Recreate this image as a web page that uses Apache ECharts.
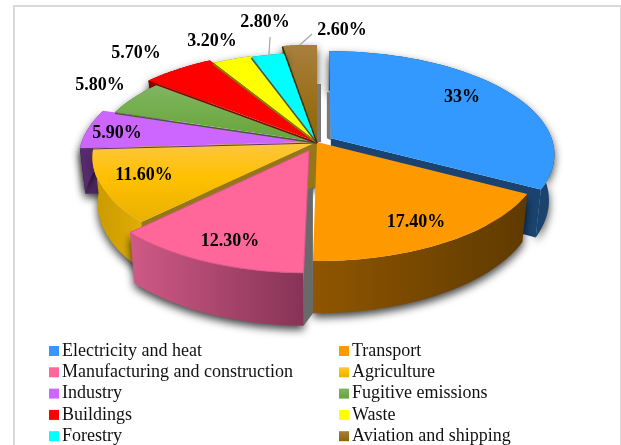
<!DOCTYPE html>
<html><head><meta charset="utf-8">
<style>html,body{margin:0;padding:0;background:#fff;overflow:hidden}#c{width:621px;height:445px}</style>
<script src="https://cdn.jsdelivr.net/npm/echarts@6/dist/echarts.min.js"></script>
</head><body><div id="c"></div>
<script>
// ---- data ----
const categories = ['Electricity and heat','Transport','Manufacturing and construction','Agriculture','Industry','Fugitive emissions','Buildings','Waste','Forestry','Aviation and shipping'];
const values = [33,17.4,12.3,11.6,5.9,5.8,5.7,3.2,2.8,2.6];
const valueLabels = ['33%','17.40%','12.30%','11.60%','5.90%','5.80%','5.70%','3.20%','2.80%','2.60%'];
const legendLeft = [0,2,4,6,8].map(i=>categories[i]);
const legendRight = [1,3,5,7,9].map(i=>categories[i]);

// ---- style and layout of the tilted pie ----
const PIE = {cx:317, cy:142, rx:222, ry:101.2, k:0.15, depth:45, sx:0.977, sy:1.06};
const grad = (a,b,h)=>new echarts.graphic.LinearGradient(0,0,h?1:0,h?0:1,[{offset:0,color:a},{offset:1,color:b}]);
const agriTop = new echarts.graphic.LinearGradient(0,0,0,1,[{offset:0,color:'#fcc640'},{offset:.45,color:'#ffc000'},{offset:1,color:'#e9b000'}]);
const sliceStyle = [
 {e:.073,r:1,   top:'#3399ff', wall:'#1a4370', cut:'#1a4370', lab:[.70,-.476]},
 {e:0,   r:1,   top:'#ff9900', wall:grad('#8f5600','#5f3a00',true), cut:'#666666', lab:[.399,.707]},
 {e:.09, r:1,   top:'#ff6699', wall:grad('#cf5a86','#873356',true), cut:'#666666', lab:[-.342,.853], stroke:'#d9588a'},
 {e:0,   r:1,   top:agriTop, wall:grad('#c89a00','#e2ae06',true), cut:'#937719', lab:[-.743,.311]},
 {e:0,   r:1.06,top:'#cc66ff', wall:'#572b6e', cut:'#572b6e', lab:[-.913,-.09], edge:'#5a3570', edgeW:1.1},
 {e:0,   r:1,   top:grad('#80b562','#66a437'), wall:'#3f6622', cut:'#3f6622', lab:[-1.068,-.615], edge:'#3f5f25', edgeW:1.3},
 {e:0,   r:1.07,top:'#ff0000', wall:'#8c0000', cut:'#8c0000', lab:[-.939,-1.013], edge:'#8c0000', edgeW:1.6},
 {e:0,   r:1.03,top:'#ffff00', wall:'#8a8a00', cut:'#8a8a00', lab:[-.556,-1.174], edge:'#80800a', edgeW:1.6},
 {e:0,   r:1.02,top:'#00ffff', wall:'#008a8a', cut:'#008a8a', lab:[-.285,-1.44], edge:'#3a5a55', edgeW:1.6, leader:[[-.25,-1.229],[-.249,-.989]]},
 {e:0,   r:1.12,top:grad('#a87f3e','#8f6500'), wall:'#6a4a00', cut:'#6a4a00', lab:[.135,-1.327], edge:'#3f2d08', edgeW:1.6, leader:[[-.027,-1.27],[-.092,-1.116]]}
];
const total = values.reduce((a,b)=>a+b,0);
const startTheta = values.map((v,i)=>values.slice(0,i).reduce((a,b)=>a+b,0)/total*Math.PI*2);
const endTheta = values.map((v,i)=>startTheta[i]+v/total*Math.PI*2);

function proj(x,y){ const f=1/(1-PIE.k*y); return [PIE.cx+PIE.rx*x*f, PIE.cy+PIE.ry*y*f]; }
function bot(p){ return [PIE.cx+(p[0]-PIE.cx)*PIE.sx, PIE.cy+(p[1]-PIE.cy)*PIE.sy+PIE.depth]; }
function sliceGeom(i){
  const s=sliceStyle[i], a=startTheta[i], b=endTheta[i], m=(a+b)/2;
  const ox=s.e*Math.sin(m), oy=-s.e*Math.cos(m);
  const arc=[]; const n=48;
  for(let j=0;j<=n;j++){ const t=a+(b-a)*j/n; arc.push(proj(ox+s.r*Math.sin(t), oy-s.r*Math.cos(t))); }
  return {apex:proj(ox,oy), arc};
}
const poly=(points,style)=>({type:'polygon',shape:{points},style});
const shadow={shadowBlur:8,shadowColor:'rgba(0,0,0,.75)',shadowOffsetX:0,shadowOffsetY:4};

function renderSlice(i){
  return function(){
    const s=sliceStyle[i], g=sliceGeom(i), kids=[];
    const wall=g.arc.concat(g.arc.map(bot).reverse());
    const last=g.arc[g.arc.length-1];
    if(i===4){ const c=g.arc[0]; kids.push(poly([g.apex,c,bot(c),bot(g.apex)],Object.assign({fill:s.cut},shadow))); }
    kids.push(poly(wall,Object.assign({fill:s.wall},shadow)));
    if(i===0) kids.push(poly([g.apex,last,bot(last),bot(g.apex)],{fill:s.cut}));
    if(i===3){ const c=g.arc[0]; kids.push(poly([g.apex,c,bot(c),bot(g.apex)],{fill:s.cut})); }
    if(i===2){
      const o=sliceGeom(1), oc=o.arc[o.arc.length-1];
      kids.push(poly([[g.apex[0]-3,bot(g.apex)[1]-5],[oc[0],bot(o.apex)[1]],oc,bot(oc),[g.arc[0][0],bot(g.arc[0])[1]],g.arc[0]],{fill:'#696969'}));
    }
    if(i===0||i===9){
      const w=i===0?-4:4, topPt=i===0?g.arc[0]:last;
      const yT=topPt[1]+(i===0?41:39);
      kids.push(poly([[g.apex[0]+w,yT],[g.apex[0],yT],[g.apex[0],g.apex[1]+(i===0?2:0)],[g.apex[0]+w,g.apex[1]]],{fill:'#7a7a7a'}));
    }
    const st={fill:s.top};
    if(s.stroke){ st.stroke=s.stroke; st.lineWidth=1; }
    kids.push(poly([g.apex].concat(g.arc),st));
    return {type:'group',children:kids};
  };
}
function renderOverlay(p){
  const i=p.dataIndex, s=sliceStyle[i], g=sliceGeom(i), kids=[];
  if(s.edge){
    const a=g.arc[0];
    kids.push({type:'polyline',shape:{points:[[g.apex[0],g.apex[1]+1],[a[0],a[1]+1]]},style:{stroke:s.edge,lineWidth:s.edgeW,fill:null}});
  }
  if(s.leader){
    const l=s.leader.map(q=>proj(q[0],q[1]));
    kids.push({type:'polyline',shape:{points:l},style:{stroke:'#a6a6a6',lineWidth:1.2,fill:null}});
  }
  const t=proj(s.lab[0],s.lab[1]);
  kids.push({type:'text',x:t[0],y:t[1],style:{text:valueLabels[i],font:'bold 18px "Liberation Serif"',fill:'#000',align:'center',verticalAlign:'middle'}});
  return {type:'group',children:kids};
}
const paintOrder=[9,8,7,6,5,4,0,3,1,2];
const seriesList=paintOrder.map(i=>({
  type:'custom',name:categories[i],coordinateSystem:'none',animation:false,silent:true,
  itemStyle:{color:sliceStyle[i].top},data:[values[i]],renderItem:renderSlice(i)
}));
seriesList.push({type:'custom',name:'labels',coordinateSystem:'none',animation:false,silent:true,z:5,data:values,renderItem:renderOverlay});

const legendBase={orient:'vertical',top:342,height:200,itemWidth:10,itemHeight:10,itemGap:3.3,icon:'rect',selectedMode:false,padding:0,
  textStyle:{fontFamily:'Liberation Serif',fontSize:18,color:'#111',padding:[0,0,0,-2]}};
const frameRects=[[13,5,608,2],[13,5,2,440],[620,5,1,440]];
const chart=echarts.init(document.getElementById('c'),null,{renderer:'canvas'});
chart.setOption({
  backgroundColor:'#fff',animation:false,
  graphic:frameRects.map(r=>({type:'rect',shape:{x:r[0],y:r[1],width:r[2],height:r[3]},style:{fill:'#d9d9d9'},silent:true})),
  legend:[Object.assign({},legendBase,{left:49,data:legendLeft}),Object.assign({},legendBase,{left:339,data:legendRight})],
  series:seriesList
});
</script></body></html>
